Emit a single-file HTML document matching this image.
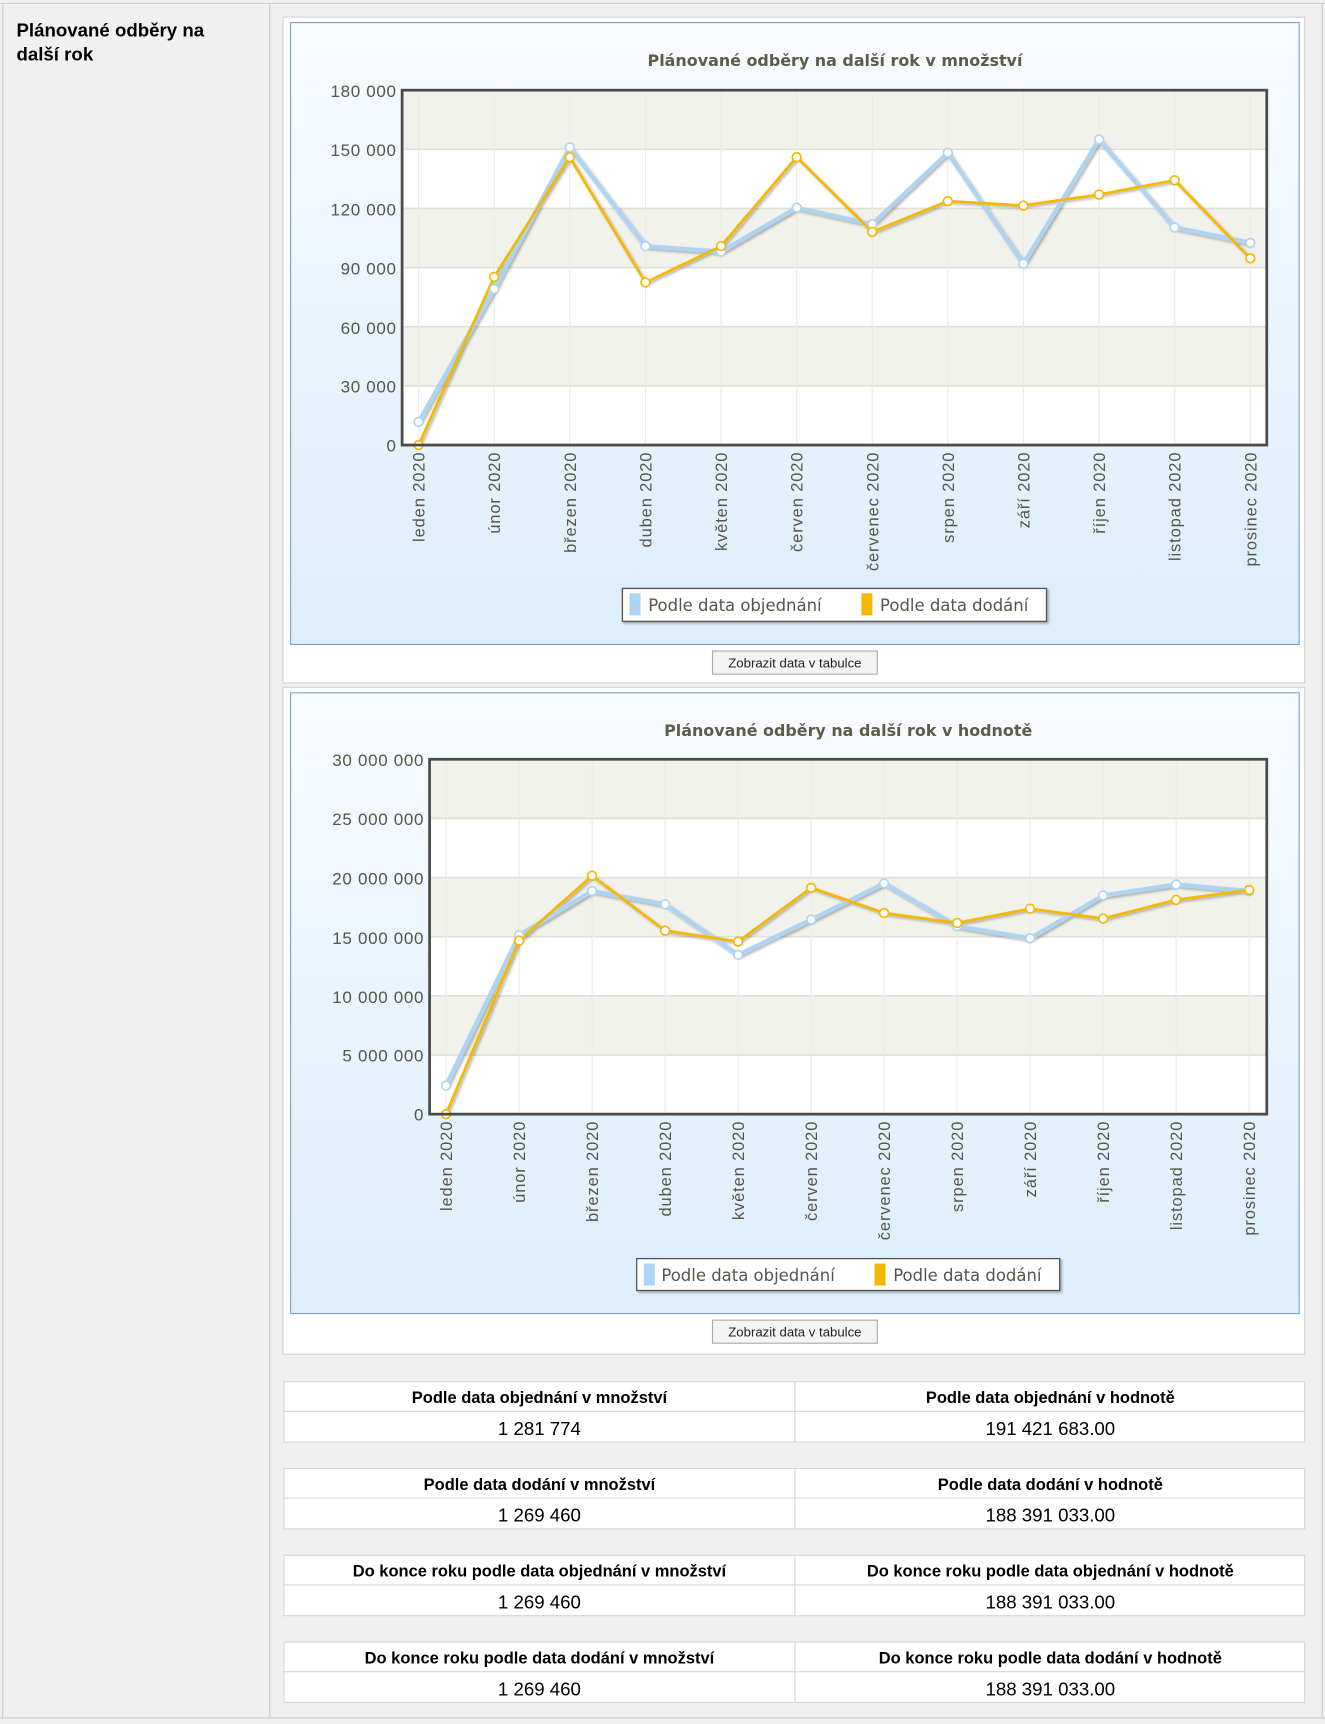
<!DOCTYPE html>
<html><head><meta charset="utf-8"><style>
html,body{margin:0;padding:0;background:#f0f0f0;}
svg{display:block;}
text{font-family:"Liberation Sans",sans-serif;}
.dv{font-family:"DejaVu Sans",sans-serif;}
</style></head><body>
<svg width="1325" height="1724" viewBox="0 0 1206 1569" xmlns="http://www.w3.org/2000/svg">
<defs>
<linearGradient id="bg" x1="0" y1="0" x2="0" y2="1"><stop offset="0" stop-color="#f8fbff"/><stop offset="1" stop-color="#dcedfc"/></linearGradient>
<filter id="sh" x="-5%" y="-5%" width="110%" height="120%"><feDropShadow dx="1.5" dy="1.5" stdDeviation="1.2" flood-color="#000" flood-opacity="0.3"/></filter>
</defs>
<rect x="0" y="0" width="1206" height="1569" fill="#f0f0f0"/>
<line x1="0" y1="3" x2="1206" y2="3" stroke="#c8c8c8"/>
<line x1="245.5" y1="3" x2="245.5" y2="1563" stroke="#c8c8c8"/>
<line x1="1203.5" y1="3" x2="1203.5" y2="1563" stroke="#c8c8c8"/>
<line x1="0" y1="1563.5" x2="1206" y2="1563.5" stroke="#c8c8c8"/>
<line x1="2.5" y1="3" x2="2.5" y2="1563" stroke="#c8c8c8"/>
<text x="15" y="33" font-size="17" font-weight="bold" fill="#000">Plánované odběry na</text>
<text x="15" y="55" font-size="17" font-weight="bold" fill="#000">další rok</text>

<rect x="257.5" y="15.5" width="930" height="606" fill="#fff" stroke="#d0d0d0"/>
<rect x="264.5" y="20.5" width="918" height="566" fill="url(#bg)" stroke="#7ea0c8"/>
<text class="dv" x="760" y="60" font-size="14.5" font-weight="bold" fill="#5c5c48" text-anchor="middle">Plánované odběry na další rok v množství</text>
<g>
<rect x="366" y="82" width="787" height="323" fill="#fff"/>
<rect x="366" y="82" width="787" height="53.8" fill="#f2f2ec"/>
<rect x="366" y="189.7" width="787" height="53.8" fill="#f2f2ec"/>
<rect x="366" y="297.3" width="787" height="53.8" fill="#f2f2ec"/>
<g stroke="#e0e0d4" stroke-width="1.5">
<line x1="366" y1="135.8" x2="1153" y2="135.8"/><line x1="366" y1="189.7" x2="1153" y2="189.7"/><line x1="366" y1="243.5" x2="1153" y2="243.5"/><line x1="366" y1="297.3" x2="1153" y2="297.3"/><line x1="366" y1="351.2" x2="1153" y2="351.2"/>
</g>
<g stroke="#ebebe2" stroke-width="1">
<line x1="381" y1="82" x2="381" y2="405"/><line x1="449.8" y1="82" x2="449.8" y2="405"/><line x1="518.6" y1="82" x2="518.6" y2="405"/><line x1="587.5" y1="82" x2="587.5" y2="405"/><line x1="656.3" y1="82" x2="656.3" y2="405"/><line x1="725.1" y1="82" x2="725.1" y2="405"/><line x1="793.9" y1="82" x2="793.9" y2="405"/><line x1="862.7" y1="82" x2="862.7" y2="405"/><line x1="931.5" y1="82" x2="931.5" y2="405"/><line x1="1000.4" y1="82" x2="1000.4" y2="405"/><line x1="1069.2" y1="82" x2="1069.2" y2="405"/><line x1="1138" y1="82" x2="1138" y2="405"/>
</g>
<g filter="url(#sh)">
<polyline fill="none" stroke="#aed4f3" stroke-width="4" stroke-linejoin="round" points="381,384 449.8,263 518.6,134 587.5,224 656.3,229 725.1,189 793.9,204 862.7,139 931.5,240 1000.4,127 1069.2,207 1138,221"/>
<polyline fill="none" stroke="#f4b800" stroke-width="2.5" stroke-linejoin="round" points="381,405 449.8,252 518.6,143 587.5,257 656.3,224 725.1,143 793.9,211 862.7,183 931.5,187 1000.4,177 1069.2,164 1138,235"/>
</g>
<g fill="#fff" stroke="#aed4f3" stroke-width="1.5">
<circle cx="381" cy="384" r="4"/><circle cx="449.8" cy="263" r="4"/><circle cx="518.6" cy="134" r="4"/><circle cx="587.5" cy="224" r="4"/><circle cx="656.3" cy="229" r="4"/><circle cx="725.1" cy="189" r="4"/><circle cx="793.9" cy="204" r="4"/><circle cx="862.7" cy="139" r="4"/><circle cx="931.5" cy="240" r="4"/><circle cx="1000.4" cy="127" r="4"/><circle cx="1069.2" cy="207" r="4"/><circle cx="1138" cy="221" r="4"/>
</g>
<g fill="#fff" stroke="#f4b800" stroke-width="1.5">
<circle cx="381" cy="405" r="4"/><circle cx="449.8" cy="252" r="4"/><circle cx="518.6" cy="143" r="4"/><circle cx="587.5" cy="257" r="4"/><circle cx="656.3" cy="224" r="4"/><circle cx="725.1" cy="143" r="4"/><circle cx="793.9" cy="211" r="4"/><circle cx="862.7" cy="183" r="4"/><circle cx="931.5" cy="187" r="4"/><circle cx="1000.4" cy="177" r="4"/><circle cx="1069.2" cy="164" r="4"/><circle cx="1138" cy="235" r="4"/>
</g>
<rect x="366" y="82" width="787" height="323" fill="none" stroke="#4a4a4a" stroke-width="2.5"/>
<g class="dv" font-size="15.5" letter-spacing="0.6" fill="#555548" text-anchor="end">
<text x="361" y="88">180 000</text><text x="361" y="142">150 000</text><text x="361" y="196">120 000</text><text x="361" y="250">90 000</text><text x="361" y="304">60 000</text><text x="361" y="357">30 000</text><text x="361" y="411">0</text>
</g>
<g class="dv" font-size="15" letter-spacing="0.8" fill="#555548" text-anchor="end">
<text transform="translate(386.5,411) rotate(-90)">leden 2020</text><text transform="translate(455.3,411) rotate(-90)">únor 2020</text><text transform="translate(524.1,411) rotate(-90)">březen 2020</text><text transform="translate(593,411) rotate(-90)">duben 2020</text><text transform="translate(661.8,411) rotate(-90)">květen 2020</text><text transform="translate(730.6,411) rotate(-90)">červen 2020</text><text transform="translate(799.4,411) rotate(-90)">červenec 2020</text><text transform="translate(868.2,411) rotate(-90)">srpen 2020</text><text transform="translate(937,411) rotate(-90)">září 2020</text><text transform="translate(1005.9,411) rotate(-90)">říjen 2020</text><text transform="translate(1074.7,411) rotate(-90)">listopad 2020</text><text transform="translate(1143.5,411) rotate(-90)">prosinec 2020</text>
</g>
</g>
<rect x="566.5" y="535.5" width="386" height="30" fill="#fff" stroke="#555" stroke-width="1.2" filter="url(#sh)"/>
<rect x="573" y="540" width="10" height="20" fill="#aed4f3"/>
<text class="dv" x="590" y="556" font-size="15" fill="#555548">Podle data objednání</text>
<rect x="784" y="540" width="10" height="20" fill="#f4b800"/>
<text class="dv" x="801" y="556" font-size="15" fill="#555548">Podle data dodání</text>
<rect x="648.5" y="592.5" width="150" height="21" fill="#f4f4f4" stroke="#aaa"/>
<text x="723.5" y="607.5" font-size="12" fill="#222" text-anchor="middle">Zobrazit data v tabulce</text>

<rect x="257.5" y="625.5" width="930" height="607" fill="#fff" stroke="#d0d0d0"/>
<rect x="264.5" y="630.5" width="918" height="565" fill="url(#bg)" stroke="#7ea0c8"/>
<text class="dv" x="772" y="670" font-size="14.5" font-weight="bold" fill="#5c5c48" text-anchor="middle">Plánované odběry na další rok v hodnotě</text>
<g>
<rect x="391" y="691" width="762" height="323" fill="#fff"/>
<rect x="391" y="691" width="762" height="53.8" fill="#f2f2ec"/>
<rect x="391" y="798.7" width="762" height="53.8" fill="#f2f2ec"/>
<rect x="391" y="906.3" width="762" height="53.8" fill="#f2f2ec"/>
<g stroke="#e0e0d4" stroke-width="1.5">
<line x1="391" y1="744.8" x2="1153" y2="744.8"/><line x1="391" y1="798.7" x2="1153" y2="798.7"/><line x1="391" y1="852.5" x2="1153" y2="852.5"/><line x1="391" y1="906.3" x2="1153" y2="906.3"/><line x1="391" y1="960.2" x2="1153" y2="960.2"/>
</g>
<g stroke="#ebebe2" stroke-width="1">
<line x1="406" y1="691" x2="406" y2="1014"/><line x1="472.5" y1="691" x2="472.5" y2="1014"/><line x1="538.9" y1="691" x2="538.9" y2="1014"/><line x1="605.4" y1="691" x2="605.4" y2="1014"/><line x1="671.8" y1="691" x2="671.8" y2="1014"/><line x1="738.3" y1="691" x2="738.3" y2="1014"/><line x1="804.7" y1="691" x2="804.7" y2="1014"/><line x1="871.2" y1="691" x2="871.2" y2="1014"/><line x1="937.6" y1="691" x2="937.6" y2="1014"/><line x1="1004.1" y1="691" x2="1004.1" y2="1014"/><line x1="1070.5" y1="691" x2="1070.5" y2="1014"/><line x1="1137" y1="691" x2="1137" y2="1014"/>
</g>
<g filter="url(#sh)">
<polyline fill="none" stroke="#aed4f3" stroke-width="4" stroke-linejoin="round" points="406,988 472.5,851 538.9,811 605.4,823 671.8,869 738.3,837 804.7,804 871.2,843 937.6,854 1004.1,815 1070.5,805 1137,811"/>
<polyline fill="none" stroke="#f4b800" stroke-width="2.5" stroke-linejoin="round" points="406,1014 472.5,856 538.9,797 605.4,847 671.8,857 738.3,808 804.7,831 871.2,840 937.6,827 1004.1,836 1070.5,819 1137,810"/>
</g>
<g fill="#fff" stroke="#aed4f3" stroke-width="1.5">
<circle cx="406" cy="988" r="4"/><circle cx="472.5" cy="851" r="4"/><circle cx="538.9" cy="811" r="4"/><circle cx="605.4" cy="823" r="4"/><circle cx="671.8" cy="869" r="4"/><circle cx="738.3" cy="837" r="4"/><circle cx="804.7" cy="804" r="4"/><circle cx="871.2" cy="843" r="4"/><circle cx="937.6" cy="854" r="4"/><circle cx="1004.1" cy="815" r="4"/><circle cx="1070.5" cy="805" r="4"/><circle cx="1137" cy="811" r="4"/>
</g>
<g fill="#fff" stroke="#f4b800" stroke-width="1.5">
<circle cx="406" cy="1014" r="4"/><circle cx="472.5" cy="856" r="4"/><circle cx="538.9" cy="797" r="4"/><circle cx="605.4" cy="847" r="4"/><circle cx="671.8" cy="857" r="4"/><circle cx="738.3" cy="808" r="4"/><circle cx="804.7" cy="831" r="4"/><circle cx="871.2" cy="840" r="4"/><circle cx="937.6" cy="827" r="4"/><circle cx="1004.1" cy="836" r="4"/><circle cx="1070.5" cy="819" r="4"/><circle cx="1137" cy="810" r="4"/>
</g>
<rect x="391" y="691" width="762" height="323" fill="none" stroke="#4a4a4a" stroke-width="2.5"/>
<g class="dv" font-size="15.5" letter-spacing="0.6" fill="#555548" text-anchor="end">
<text x="386" y="697">30 000 000</text><text x="386" y="751">25 000 000</text><text x="386" y="805">20 000 000</text><text x="386" y="859">15 000 000</text><text x="386" y="913">10 000 000</text><text x="386" y="966">5 000 000</text><text x="386" y="1020">0</text>
</g>
<g class="dv" font-size="15" letter-spacing="0.8" fill="#555548" text-anchor="end">
<text transform="translate(411.5,1020) rotate(-90)">leden 2020</text><text transform="translate(478,1020) rotate(-90)">únor 2020</text><text transform="translate(544.4,1020) rotate(-90)">březen 2020</text><text transform="translate(610.9,1020) rotate(-90)">duben 2020</text><text transform="translate(677.3,1020) rotate(-90)">květen 2020</text><text transform="translate(743.8,1020) rotate(-90)">červen 2020</text><text transform="translate(810.2,1020) rotate(-90)">červenec 2020</text><text transform="translate(876.7,1020) rotate(-90)">srpen 2020</text><text transform="translate(943.1,1020) rotate(-90)">září 2020</text><text transform="translate(1009.6,1020) rotate(-90)">říjen 2020</text><text transform="translate(1076,1020) rotate(-90)">listopad 2020</text><text transform="translate(1142.5,1020) rotate(-90)">prosinec 2020</text>
</g>
</g>
<rect x="579.5" y="1145.5" width="385" height="29" fill="#fff" stroke="#555" stroke-width="1.2" filter="url(#sh)"/>
<rect x="586" y="1150" width="10" height="20" fill="#aed4f3"/>
<text class="dv" x="602" y="1166" font-size="15" fill="#555548">Podle data objednání</text>
<rect x="796" y="1150" width="10" height="20" fill="#f4b800"/>
<text class="dv" x="813" y="1166" font-size="15" fill="#555548">Podle data dodání</text>
<rect x="648.5" y="1201.5" width="150" height="21" fill="#f4f4f4" stroke="#aaa"/>
<text x="723.5" y="1216.5" font-size="12" fill="#222" text-anchor="middle">Zobrazit data v tabulce</text>

<g font-size="15" text-anchor="middle">
<g transform="translate(0,0)">
<rect x="258.5" y="1257.5" width="929" height="55" fill="#fff" stroke="#d4d4d4"/>
<line x1="258.5" y1="1284.5" x2="1187.5" y2="1284.5" stroke="#d4d4d4"/><line x1="723.5" y1="1257.5" x2="723.5" y2="1312.5" stroke="#d4d4d4"/>
<text x="491" y="1277" font-weight="bold">Podle data objednání v množství</text><text x="956" y="1277" font-weight="bold">Podle data objednání v hodnotě</text>
<text x="491" y="1306" font-size="17">1 281 774</text><text x="956" y="1306" font-size="17">191 421 683.00</text>
</g>
<g transform="translate(0,79)">
<rect x="258.5" y="1257.5" width="929" height="55" fill="#fff" stroke="#d4d4d4"/>
<line x1="258.5" y1="1284.5" x2="1187.5" y2="1284.5" stroke="#d4d4d4"/><line x1="723.5" y1="1257.5" x2="723.5" y2="1312.5" stroke="#d4d4d4"/>
<text x="491" y="1277" font-weight="bold">Podle data dodání v množství</text><text x="956" y="1277" font-weight="bold">Podle data dodání v hodnotě</text>
<text x="491" y="1306" font-size="17">1 269 460</text><text x="956" y="1306" font-size="17">188 391 033.00</text>
</g>
<g transform="translate(0,158)">
<rect x="258.5" y="1257.5" width="929" height="55" fill="#fff" stroke="#d4d4d4"/>
<line x1="258.5" y1="1284.5" x2="1187.5" y2="1284.5" stroke="#d4d4d4"/><line x1="723.5" y1="1257.5" x2="723.5" y2="1312.5" stroke="#d4d4d4"/>
<text x="491" y="1277" font-weight="bold">Do konce roku podle data objednání v množství</text><text x="956" y="1277" font-weight="bold">Do konce roku podle data objednání v hodnotě</text>
<text x="491" y="1306" font-size="17">1 269 460</text><text x="956" y="1306" font-size="17">188 391 033.00</text>
</g>
<g transform="translate(0,237)">
<rect x="258.5" y="1257.5" width="929" height="55" fill="#fff" stroke="#d4d4d4"/>
<line x1="258.5" y1="1284.5" x2="1187.5" y2="1284.5" stroke="#d4d4d4"/><line x1="723.5" y1="1257.5" x2="723.5" y2="1312.5" stroke="#d4d4d4"/>
<text x="491" y="1277" font-weight="bold">Do konce roku podle data dodání v množství</text><text x="956" y="1277" font-weight="bold">Do konce roku podle data dodání v hodnotě</text>
<text x="491" y="1306" font-size="17">1 269 460</text><text x="956" y="1306" font-size="17">188 391 033.00</text>
</g>
</g>
</svg>
</body></html>
